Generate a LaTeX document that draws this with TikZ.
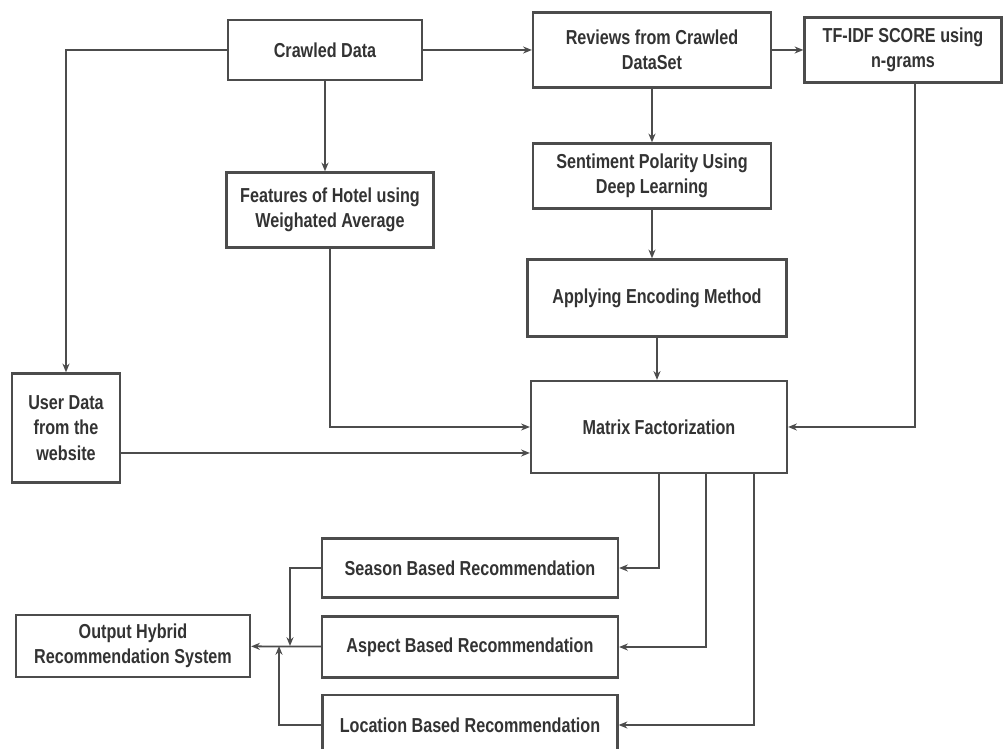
\documentclass[tikz,border=0pt]{standalone}
\usepackage{fontspec}
\setmainfont{Liberation Sans}[FakeStretch=0.80]
\usetikzlibrary{arrows.meta}
\begin{document}
\begin{tikzpicture}[x=0.02cm, y=-0.02cm, >={Stealth[length=5pt,width=4pt]},
  every node/.style={font=\bfseries\fontsize{11.5}{14.5}\selectfont, text=black!80},
  box/.style={draw=black!70, line width=1.3pt, fill=white, align=center, inner sep=2pt},
  link/.style={->, draw=black!70, line width=1pt}]
\useasboundingbox (0,0) rectangle (1005,749);
\node[box, minimum width=3.88cm, minimum height=1.2cm] (crawl) at (325,50) {Crawled Data};
\node[box, minimum width=4.76cm, minimum height=1.5cm] (reviews) at (652,50) {Reviews from Crawled\\DataSet};
\node[box, minimum width=3.94cm, minimum height=1.3cm] (tfidf) at (903,50) {TF-IDF SCORE using\\n-grams};
\node[box, minimum width=4.14cm, minimum height=1.5cm] (feat) at (330,210) {Features of Hotel using\\Weighated Average};
\node[box, minimum width=4.76cm, minimum height=1.3cm] (senti) at (652,176) {Sentiment Polarity Using\\Deep Learning};
\node[box, minimum width=5.18cm, minimum height=1.54cm] (enc) at (657,298) {Applying Encoding Method};
\node[box, minimum width=5.12cm, minimum height=1.84cm] (mf) at (659,427) {Matrix Factorization};
\node[box, minimum width=2.16cm, minimum height=2.18cm] (user) at (66,428) {User Data\\from the\\website};
\node[box, minimum width=5.92cm, minimum height=1.18cm] (season) at (470,568) {Season Based Recommendation};
\node[box, minimum width=5.92cm, minimum height=1.22cm] (aspect) at (470,647) {Aspect Based Recommendation};
\node[box, minimum width=5.9cm, minimum height=1.2cm] (location) at (470,725) {Location Based Recommendation};
\node[box, minimum width=4.68cm, minimum height=1.24cm] (out) at (133,646) {Output Hybrid\\Recommendation System};
\coordinate (js) at (290,646);
\coordinate (jl) at (279,646);
% upper part
\draw[link] (crawl) -- (reviews);
\draw[link] (reviews) -- (tfidf);
\draw[link] (crawl.south) -- (crawl.south |- feat.north);
\draw[link] (crawl.west) -| (user.north);
\draw[link] (reviews) -- (senti);
\draw[link] (senti.south) -- (senti.south |- enc.north);
\draw[link] (enc.south) -- (enc.south |- mf.north);
% into matrix factorization
\draw[link] (feat.south) |- (mf.west);
\draw[link] ([yshift=-0.5cm]user.east) -- ([yshift=-0.5cm]user.east -| mf.west);
\draw[link] ([xshift=0.24cm]tfidf.south) |- (mf.east);
% recommendations
\draw[link] (mf.south) |- (season.east);
\draw[link] ([xshift=0.94cm]mf.south) |- (aspect.east);
\draw[link] ([xshift=1.9cm]mf.south) |- (location.east);
\draw[link, line width=0.8pt] (season.west) -| (js);
\draw[link, line width=0.8pt] (location.west) -| (jl);
\draw[link] (aspect) -- (out);
\end{tikzpicture}
\end{document}
